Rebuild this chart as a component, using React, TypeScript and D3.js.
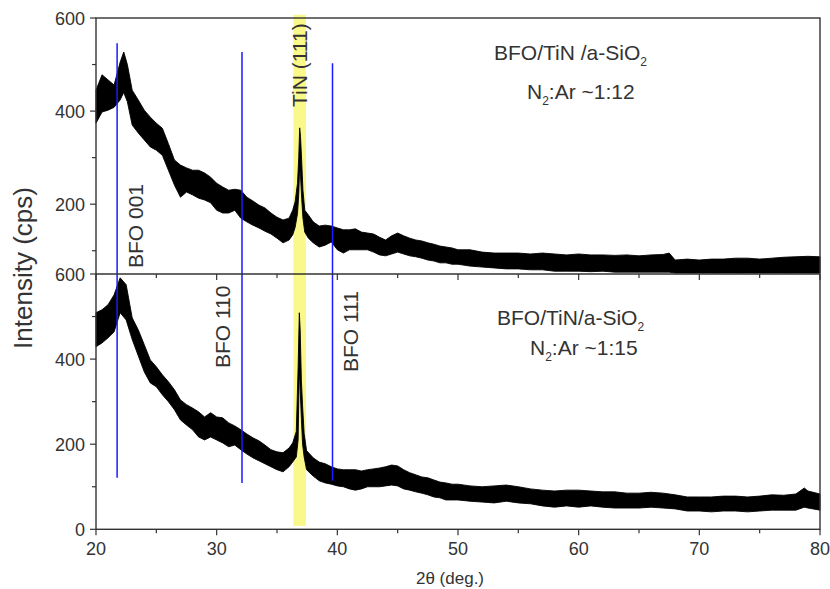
import React from "react";
import * as d3 from "d3";

// ---- data (envelope of the noisy XRD traces) ----
const topX = [20.0,20.5,21.0,21.5,22.0,22.3,22.6,23.0,23.5,24.0,24.5,25.0,25.5,26.0,26.5,27.0,27.5,28.0,28.5,29.0,29.5,30.0,30.5,31.0,31.5,32.0,32.5,33.0,33.5,34.0,34.5,35.0,35.5,36.0,36.3,36.5,36.7,36.8,36.88,36.95,37.05,37.15,37.3,37.6,38.0,38.5,39.0,39.5,40.0,40.5,41.0,41.5,42.0,42.5,43.0,43.5,44.0,44.5,45.0,45.5,46.0,46.5,47.0,47.5,48.0,48.5,49.0,49.5,50.0,51.0,52.0,53.0,54.0,55.0,56.0,57.0,58.0,59.0,60.0,61.0,62.0,63.0,64.0,65.0,66.0,67.0,67.5,68.0,69.0,70.0,71.0,72.0,73.0,74.0,75.0,76.0,77.0,78.0,79.0,80.0];
const topLo = [374,398,402,408,424,440,420,370,353,338,323,316,305,273,241,215,226,220,213,209,203,187,181,181,187,170,162,155,149,142,136,127,117,123,134,150,180,220,280,260,210,170,140,127,117,108,112,119,102,95,102,102,102,102,97,91,89,93,97,93,89,87,84,80,78,74,74,71,71,67,65,63,61,61,59,59,56,56,56,55,56,54,54,54,54,54,54,52,52,52,52,52,52,52,52,52,52,52,52,52];
const topHi = [445,478,467,456,505,527,500,445,424,402,387,374,363,330,295,284,278,273,273,267,258,245,237,230,232,230,215,207,198,192,181,172,166,170,187,205,245,300,364,345,290,230,187,177,162,153,155,153,149,145,145,147,140,138,136,129,123,132,138,132,127,123,121,117,114,110,108,106,102,102,97,95,95,95,93,95,93,91,93,91,91,90,91,89,91,92,95,80,82,80,82,82,84,84,82,84,86,87,88,87];

const botX = [20.0,20.5,21.0,21.5,22.0,22.5,23.0,23.5,24.0,24.5,25.0,25.5,26.0,26.5,27.0,27.5,28.0,28.5,29.0,29.5,30.0,30.5,31.0,31.5,32.0,32.5,33.0,33.5,34.0,34.5,35.0,35.5,36.0,36.3,36.6,36.75,36.85,36.92,37.02,37.12,37.25,37.45,38.0,38.5,39.0,39.5,40.0,40.5,41.0,41.5,42.0,42.5,43.0,43.5,44.0,44.5,45.0,45.5,46.0,46.5,47.0,47.5,48.0,48.5,49.0,49.5,50.0,51.0,52.0,53.0,54.0,55.0,56.0,57.0,58.0,59.0,60.0,61.0,62.0,63.0,64.0,65.0,66.0,67.0,68.0,69.0,70.0,71.0,72.0,73.0,74.0,75.0,76.0,77.0,78.0,78.7,79.0,80.0];
const botLo = [429,438,450,464,509,492,446,408,370,344,335,316,300,281,257,245,234,217,210,217,210,203,194,198,187,177,168,161,154,147,140,135,147,158,170,210,380,330,260,200,170,140,125,114,109,106,102,100,95,92,95,100,100,100,102,104,102,95,92,88,85,81,76,74,69,69,69,66,64,62,66,62,60,55,52,55,52,55,52,50,50,50,52,50,48,43,43,41,43,43,41,43,45,45,45,52,50,45];
const botHi = [509,516,528,551,591,575,497,469,434,398,382,363,347,328,304,293,285,276,264,274,264,262,250,243,234,224,215,208,198,187,182,180,191,203,230,380,509,470,350,290,225,185,168,158,154,147,142,140,140,140,137,140,142,144,147,151,149,140,133,128,123,121,116,111,109,106,106,102,100,102,104,100,95,92,90,92,92,90,88,88,85,85,87,85,81,76,76,76,78,78,76,78,81,80,83,97,90,83];

// reference markers
const bfoPos = [21.75, 32.1, 39.6];
const bfoTop = [546, 527, 503];      // in top-panel units
const bfoBottom = [121, 109, 114];   // in bottom-panel units
const bfoLabels = ["BFO 001", "BFO 110", "BFO 111"];
const tinBand = [36.35, 37.4];

const xMajor = [20, 30, 40, 50, 60, 70, 80];
const xMinor = [25, 35, 45, 55, 65, 75];
const topYMajor = [200, 400, 600];
const topYMinor = [100, 300, 500];
const botYMajor = [0, 200, 400, 600];
const botYMinor = [100, 300, 500];

const FONT = "'Liberation Sans', Arial, Helvetica, sans-serif";
const TXT = "#333";
const AX = "#333";

export default function App() {
  const x = d3.scaleLinear().domain([20, 80]).range([96, 820]);
  const yT = d3.scaleLinear().domain([50, 600]).range([274, 18]);
  const yB = d3.scaleLinear().domain([0, 600]).range([529.3, 274]);

  const areaTop = d3.area<number>()
    .x((i) => x(topX[i]))
    .y0((i) => yT(topLo[i]))
    .y1((i) => yT(topHi[i]));
  const areaBot = d3.area<number>()
    .x((i) => x(botX[i]))
    .y0((i) => yB(botLo[i]))
    .y1((i) => yB(botHi[i]));
  const topPath = areaTop(d3.range(topX.length)) || "";
  const botPath = areaBot(d3.range(botX.length)) || "";

  const L = x(20), R = x(80);
  const yTopEdge = yT(600), yMid = yT(50), yBottom = yB(0);

  const rotLabel = (bx: number, by: number, text: string, key: string) => (
    <text key={key} transform={`translate(${bx},${by}) rotate(-90)`} fontSize={21} fill={TXT} fontFamily={FONT}>{text}</text>
  );

  return (
    <div style={{ position: "fixed", left: 0, top: 0 }}>
      <svg width={830} height={589} style={{ display: "block", background: "#fff" }}>
        {/* TiN band */}
        <rect x={x(tinBand[0])} y={yT(607)} width={x(tinBand[1]) - x(tinBand[0])} height={yB(8) - yT(607)} fill="#fbf88a" />

        {/* traces */}
        <path d={topPath} fill="#000" stroke="#000" strokeWidth={0.9} strokeLinejoin="miter" />
        <path d={botPath} fill="#000" stroke="#000" strokeWidth={0.9} strokeLinejoin="miter" />

        {/* BFO reference lines */}
        {bfoPos.map((p, i) => (
          <line key={"b" + i} x1={x(p)} x2={x(p)} y1={yT(bfoTop[i])} y2={yB(bfoBottom[i])} stroke="#1a1aff" strokeWidth={1.5} />
        ))}

        {/* frame */}
        <g stroke={AX} strokeWidth={1.4} fill="none">
          <rect x={L} y={yTopEdge} width={R - L} height={yBottom - yTopEdge} />
          <line x1={L} x2={R} y1={yMid} y2={yMid} />
        </g>

        {/* x ticks: top panel bottom axis and bottom axis */}
        <g stroke={AX} strokeWidth={1.2}>
          {xMajor.map((t) => <line key={"tm" + t} x1={x(t)} x2={x(t)} y1={yMid} y2={yMid + 6} />)}
          {xMinor.map((t) => <line key={"tn" + t} x1={x(t)} x2={x(t)} y1={yMid} y2={yMid + 4} />)}
          {xMajor.map((t) => <line key={"bm" + t} x1={x(t)} x2={x(t)} y1={yBottom} y2={yBottom + 6} />)}
          {xMinor.map((t) => <line key={"bn" + t} x1={x(t)} x2={x(t)} y1={yBottom} y2={yBottom + 4} />)}
          {topYMajor.map((v) => <line key={"ym" + v} x1={L - 6} x2={L} y1={yT(v)} y2={yT(v)} />)}
          {topYMinor.map((v) => <line key={"yn" + v} x1={L - 4} x2={L} y1={yT(v)} y2={yT(v)} />)}
          {botYMajor.map((v) => <line key={"zm" + v} x1={L - 6} x2={L} y1={yB(v)} y2={yB(v)} />)}
          {botYMinor.map((v) => <line key={"zn" + v} x1={L - 4} x2={L} y1={yB(v)} y2={yB(v)} />)}
        </g>

        {/* tick labels */}
        <g fontFamily={FONT} fontSize={18} fill={TXT}>
          {xMajor.map((t) => <text key={"xl" + t} x={x(t)} y={555} textAnchor="middle">{t}</text>)}
          {topYMajor.map((v) => <text key={"tl" + v} x={L - 11} y={yT(v) + 6.5} textAnchor="end">{v}</text>)}
          {botYMajor.map((v) => <text key={"bl" + v} x={L - 11} y={yB(v) + 6.5} textAnchor="end">{v}</text>)}
        </g>

        {/* axis titles */}
        <text transform={`translate(32,268) rotate(-90)`} textAnchor="middle" fontFamily={FONT} fontSize={26} fill={TXT}>Intensity (cps)</text>
        <text x={450} y={584} textAnchor="middle" fontFamily={FONT} fontSize={17} fill={TXT}>2θ (deg.)</text>

        {/* peak labels */}
        {rotLabel(143, 268, bfoLabels[0], "l0")}
        {rotLabel(230, 368, bfoLabels[1], "l1")}
        {rotLabel(358, 372, bfoLabels[2], "l2")}
        {rotLabel(307, 107, "TiN (111)", "l3")}

        {/* annotations */}
        <g fontFamily={FONT} fontSize={21} fill={TXT}>
          <text x={494} y={60}>BFO/TiN /a-SiO<tspan fontSize={12} dy={6}>2</tspan></text>
          <text x={527} y={99}>N<tspan fontSize={12} dy={6}>2</tspan><tspan dy={-6}>:Ar ~1:12</tspan></text>
          <text x={497} y={325}>BFO/TiN/a-SiO<tspan fontSize={12} dy={6}>2</tspan></text>
          <text x={530} y={355}>N<tspan fontSize={12} dy={6}>2</tspan><tspan dy={-6}>:Ar ~1:15</tspan></text>
        </g>
      </svg>
    </div>
  );
}
